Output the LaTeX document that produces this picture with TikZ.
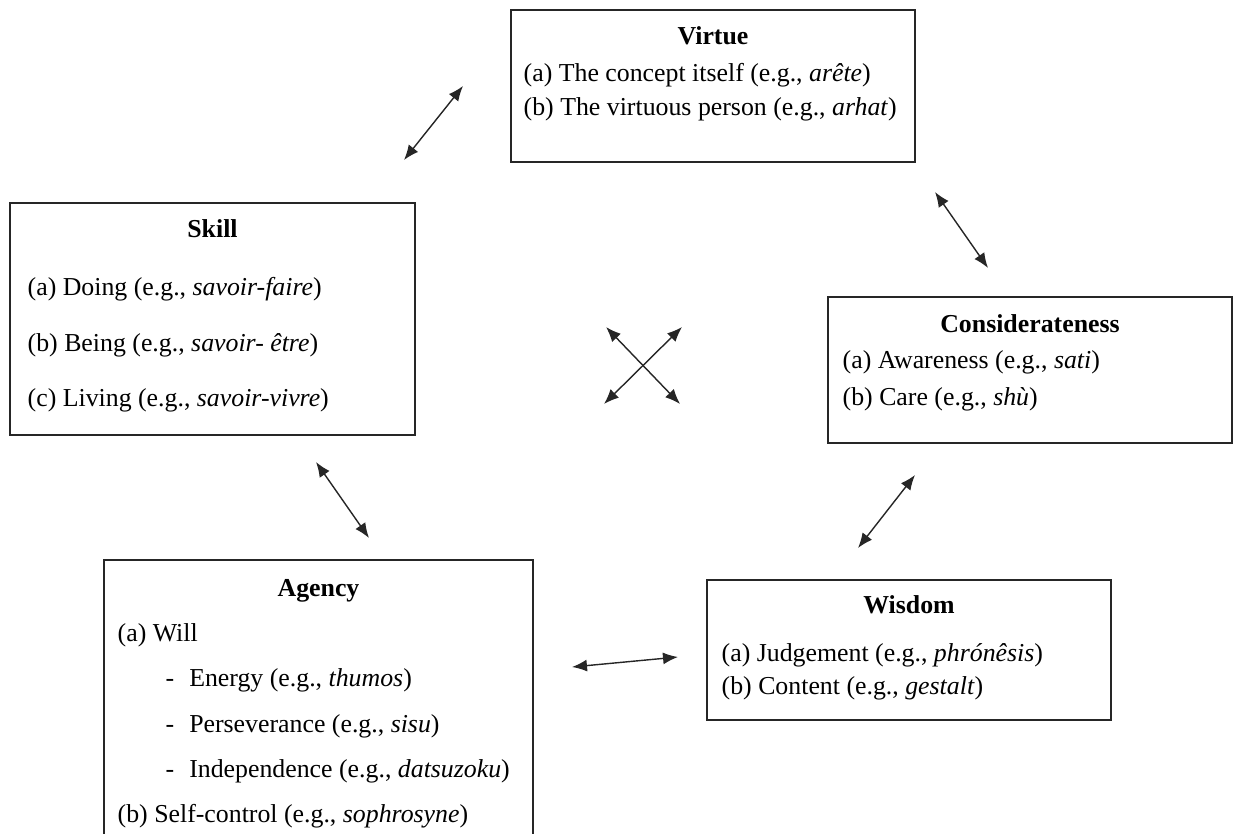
\documentclass[tikz,border=0pt]{standalone}
\usepackage{fontspec}
\setmainfont{Liberation Serif}
\usetikzlibrary{positioning,arrows.meta}

\begin{document}
\begin{tikzpicture}[
    x=0.02cm, y=-0.02cm,
    box/.style={
        rectangle,draw=black!85,line width=0.8pt,
        inner sep=0pt
    },
    head/.style={font=\fontsize{14.7}{17}\selectfont\bfseries,inner sep=0pt},
    items/.style={align=left,inner sep=0pt,font=\fontsize{14.7}{#1}\selectfont},
    arrow/.style={{Latex[length=3mm,width=2.4mm]}-{Latex[length=3mm,width=2.4mm]},line width=0.8pt,black!85}
]
\clip (0,0) rectangle (1240,834);

% the five boxes
\node[box, minimum width=8.08cm, minimum height=3.04cm] (virtue) at (713,86) {};
\node[box, minimum width=8.1cm, minimum height=4.64cm] (skill) at (212.5,319) {};
\node[box, minimum width=8.08cm, minimum height=2.92cm] (consid) at (1030,370) {};
\node[box, minimum width=8.58cm, minimum height=6.2cm] (agency) at (318.5,715) {};
\node[box, minimum width=8.08cm, minimum height=2.8cm] (wisdom) at (909,650) {};

% titles
\node[head, below=0.33cm of virtue.north] (virtuehead) {Virtue};
\node[head, below=0.33cm of skill.north] (skillhead) {Skill};
\node[head, below=0.35cm of consid.north] (considhead) {Considerateness};
\node[head, below=0.39cm of agency.north] (agencyhead) {Agency};
\node[head, below=0.31cm of wisdom.north] (wisdomhead) {Wisdom};

% contents
\node[items=19.4, below right=1.08cm and 0.26cm of virtue.north west] (virtueitems)
    {(a) The concept itself (e.g., \textit{arête})\\
     (b) The virtuous person (e.g., \textit{arhat})};
\node[items=31.6, below right=1.5cm and 0.36cm of skill.north west] (skillitems)
    {(a) Doing (e.g., \textit{savoir-faire})\\
     (b) Being (e.g., \textit{savoir- être})\\
     (c) Living (e.g., \textit{savoir-vivre})};
\node[items=21, below right=1.08cm and 0.3cm of consid.north west] (considitems)
    {(a) Awareness (e.g., \textit{sati})\\
     (b) Care (e.g., \textit{shù})};
\node[items=25.8, below right=1.28cm and 0.28cm of agency.north west] (agencyitems)
    {(a) Will\\
     \hspace*{0.96cm}-\hspace{0.3cm}Energy (e.g., \textit{thumos})\\
     \hspace*{0.96cm}-\hspace{0.3cm}Perseverance (e.g., \textit{sisu})\\
     \hspace*{0.96cm}-\hspace{0.3cm}Independence (e.g., \textit{datsuzoku})\\
     (b) Self-control (e.g., \textit{sophrosyne})};
\node[items=18.8, below right=1.28cm and 0.3cm of wisdom.north west] (wisdomitems)
    {(a) Judgement (e.g., \textit{phrónêsis})\\
     (b) Content (e.g., \textit{gestalt})};

% arrow ends
\coordinate (vsA) at (463,86);   \coordinate (vsB) at (404,160);
\coordinate (vcA) at (935,192);  \coordinate (vcB) at (988,268);
\coordinate (xA) at (606,327);   \coordinate (xB) at (680,404);
\coordinate (xC) at (682,327);   \coordinate (xD) at (604,404);
\coordinate (saA) at (316,462);  \coordinate (saB) at (369,538);
\coordinate (cwA) at (915,475);  \coordinate (cwB) at (858,548);
\coordinate (awA) at (572,667);  \coordinate (awB) at (678,657);

\draw[arrow] (vsA) -- (vsB);
\draw[arrow] (vcA) -- (vcB);
\draw[arrow] (xA) -- (xB);
\draw[arrow] (xC) -- (xD);
\draw[arrow] (saA) -- (saB);
\draw[arrow] (cwA) -- (cwB);
\draw[arrow] (awA) -- (awB);
\end{tikzpicture}
\end{document}
